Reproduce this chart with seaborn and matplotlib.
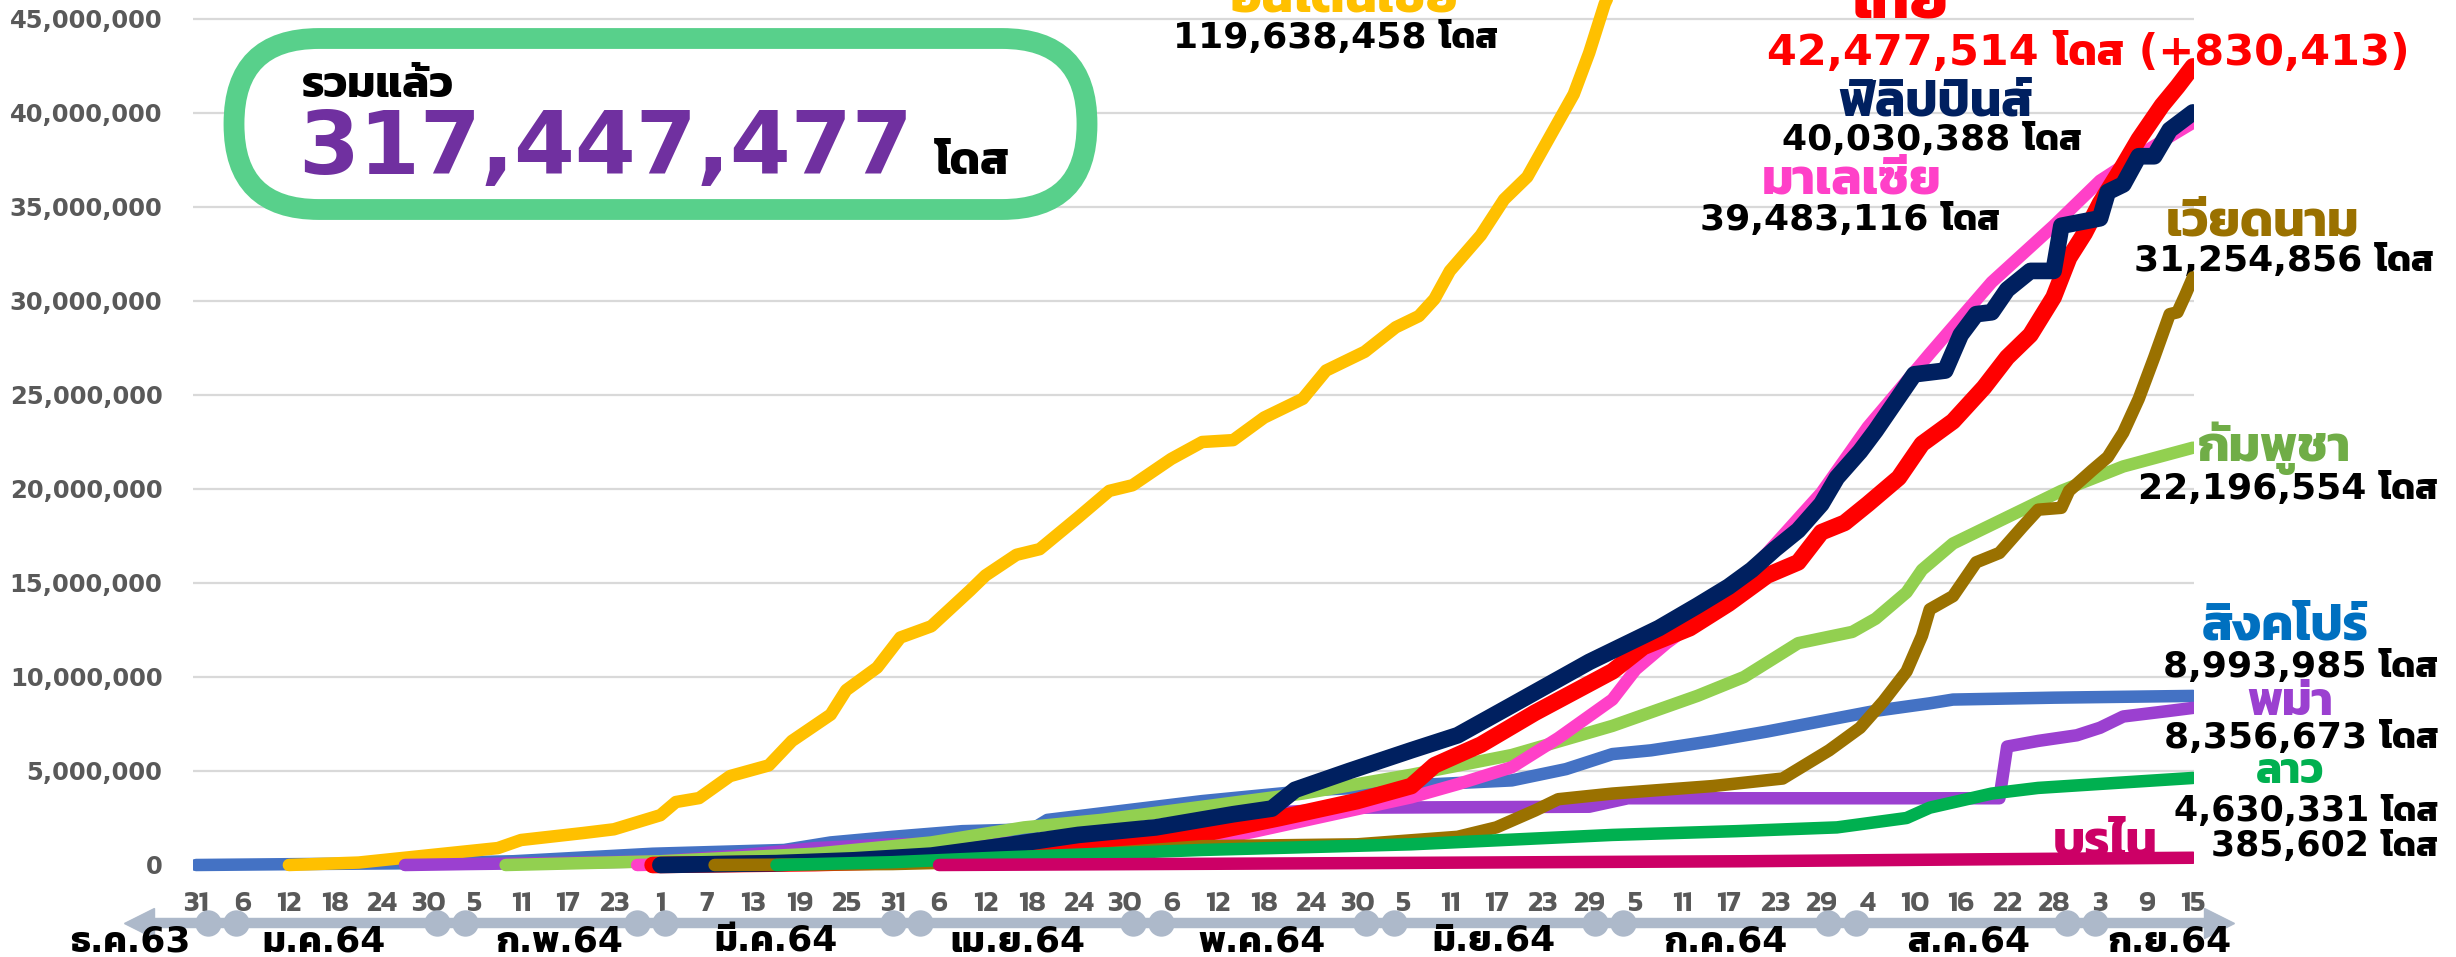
import pandas as pd
import matplotlib
matplotlib.use('Agg')
import matplotlib.pyplot as plt
from matplotlib.patches import FancyBboxPatch
from matplotlib.transforms import IdentityTransform
import seaborn as sns

# ── DATA (days after 31 Dec 2020, cumulative doses in millions) ──
START = pd.Timestamp('2020-12-31')

SG_DAY = [0, 14, 30, 41, 50, 59, 76, 82, 90, 99, 108, 110, 130, 145, 160, 170, 177, 183, 188, 196, 203, 210, 217, 224, 227, 240, 258]
SG_M = [0, 0.05, 0.1, 0.2, 0.4, 0.6, 0.8, 1.2, 1.5, 1.8, 1.9, 2.4, 3.4, 4.0, 4.3, 4.5, 5.1, 5.9, 6.1, 6.6, 7.1, 7.65, 8.2, 8.6, 8.8, 8.9, 8.993985]

ID_DAY = [12, 21, 28, 39, 42, 50, 54, 60, 62, 65, 69, 74, 77, 82, 84, 88, 91, 95, 100, 102, 106, 109, 114, 118, 121, 126, 130, 134, 138, 143, 146, 151, 155, 158, 160, 162, 166, 169, 172, 175, 178, 180, 182, 185, 196, 213, 227, 244, 258]
ID_M = [0, 0.13, 0.43, 0.9, 1.33, 1.7, 1.9, 2.65, 3.35, 3.56, 4.73, 5.3, 6.6, 8.0, 9.3, 10.5, 12.1, 12.7, 14.6, 15.4, 16.5, 16.8, 18.5, 19.9, 20.2, 21.6, 22.5, 22.6, 23.8, 24.8, 26.3, 27.3, 28.6, 29.2, 30.1, 31.6, 33.5, 35.4, 36.6, 38.8, 41.0, 43.2, 45.8, 48.5, 55.0, 70.0, 85.0, 104.0, 119.638458]

MM_DAY = [27, 35, 45, 60, 70, 80, 90, 120, 132, 140, 150, 180, 185, 233, 234, 238, 243, 246, 249, 255, 258]
MM_M = [0, 0.05, 0.1, 0.2, 0.5, 0.9, 1.1, 1.3, 1.4, 2.8, 3.05, 3.1, 3.55, 3.55, 6.3, 6.6, 6.9, 7.3, 7.9, 8.2, 8.356673]

KH_DAY = [40, 60, 80, 95, 107, 117, 130, 143, 157, 170, 183, 194, 200, 207, 214, 217, 221, 223, 227, 234, 241, 249, 258]
KH_M = [0, 0.2, 0.6, 1.2, 2.0, 2.4, 3.1, 3.8, 4.8, 5.85, 7.4, 9.0, 10.0, 11.8, 12.4, 13.1, 14.5, 15.7, 17.1, 18.5, 19.9, 21.2, 22.196554]

MY_DAY = [57, 80, 100, 115, 125, 131, 137, 147, 157, 163, 170, 176, 183, 186, 190, 196, 203, 210, 216, 224, 232, 240, 246, 252, 258]
MY_M = [0, 0.2, 0.5, 0.8, 1.05, 1.3, 1.8, 2.7, 3.6, 4.3, 5.2, 6.75, 8.8, 10.4, 11.8, 13.6, 16.6, 19.8, 23.3, 27.2, 31.0, 34.0, 36.4, 38.0, 39.483116]

TH_DAY = [59, 70, 80, 90, 100, 110, 120, 130, 140, 150, 157, 160, 166, 173, 183, 187, 193, 198, 203, 207, 210, 213, 216, 220, 223, 227, 231, 234, 237, 240, 242, 244, 246, 249, 251, 254, 256, 258]
TH_M = [0, 0.05, 0.1, 0.2, 0.45, 0.8, 1.1, 1.65, 2.5, 3.4, 4.2, 5.3, 6.4, 8.1, 10.3, 11.6, 12.6, 13.9, 15.4, 16.1, 17.7, 18.2, 19.2, 20.6, 22.4, 23.6, 25.4, 27.0, 28.2, 30.2, 32.3, 33.6, 35.2, 37.2, 38.6, 40.4, 41.4, 42.477514]

PH_DAY = [60, 75, 85, 95, 104, 114, 124, 134, 139, 142, 149, 157, 163, 170, 180, 189, 194, 198, 201, 204, 207, 210, 212, 215, 217, 220, 222, 226, 228, 230, 232, 234, 237, 240, 241, 246, 247, 249, 251, 253, 255, 258]
PH_M = [0, 0.1, 0.25, 0.5, 1.0, 1.6, 2.0, 2.7, 3.0, 4.0, 5.0, 6.1, 6.9, 8.5, 10.8, 12.6, 13.8, 14.8, 15.7, 16.8, 17.8, 19.2, 20.6, 22.0, 23.1, 24.9, 26.1, 26.3, 28.2, 29.3, 29.4, 30.6, 31.6, 31.6, 34.0, 34.4, 35.8, 36.2, 37.7, 37.7, 39.1, 40.030388]

VN_DAY = [67, 90, 105, 117, 130, 150, 163, 168, 173, 176, 183, 196, 205, 211, 215, 218, 221, 223, 224, 227, 230, 233, 236, 238, 241, 242, 245, 247, 249, 251, 253, 255, 256, 257, 258]
VN_M = [0, 0.05, 0.2, 0.6, 1.0, 1.1, 1.5, 2.0, 2.9, 3.5, 3.8, 4.2, 4.6, 6.1, 7.3, 8.7, 10.3, 12.2, 13.6, 14.3, 16.1, 16.6, 18.0, 18.9, 19.0, 19.9, 21.0, 21.7, 23.0, 24.8, 27.0, 29.3, 29.4, 30.3, 31.254856]

LA_DAY = [75, 90, 104, 130, 157, 183, 199, 212, 221, 224, 232, 238, 258]
LA_M = [0, 0.15, 0.4, 0.8, 1.1, 1.6, 1.8, 2.0, 2.5, 3.05, 3.8, 4.1, 4.630331]

BN_DAY = [96, 150, 200, 230, 258]
BN_M = [0, 0.1, 0.2, 0.3, 0.385602]

COUNTRIES = ['สิงคโปร์', 'อินโดนีเซีย', 'พม่า', 'กัมพูชา', 'มาเลเซีย',
             'ไทย', 'ฟิลิปปินส์', 'เวียดนาม', 'ลาว', 'บรไน']
SERIES = [(SG_DAY, SG_M), (ID_DAY, ID_M), (MM_DAY, MM_M), (KH_DAY, KH_M), (MY_DAY, MY_M),
          (TH_DAY, TH_M), (PH_DAY, PH_M), (VN_DAY, VN_M), (LA_DAY, LA_M), (BN_DAY, BN_M)]
TOTAL_TEXT = '317,447,477'
MONTHS = ['ธ.ค.63', 'ม.ค.64', 'ก.พ.64', 'มี.ค.64', 'เม.ย.64', 'พ.ค.64',
          'มิ.ย.64', 'ก.ค.64', 'ส.ค.64', 'ก.ย.64']

# ── STYLE ─────────────────────────────────────────────────
LINE_COLORS = ['#4472c4', '#ffc000', '#9b40d0', '#92d050', '#ff40c8',
               '#ff0000', '#002060', '#9a7100', '#00b050', '#cc0066']
NAME_COLORS = ['#0070c0', '#ffc000', '#9b40d0', '#70ad47', '#ff40c8',
               '#ff0000', '#002060', '#9a7100', '#00b050', '#cc0066']
ARROW_GRAY = '#adb9ca'

sns.set_theme(style='white')
NUM_FAM = ['DejaVu Sans', 'Kanit']     # latin digits first, Thai falls back to Kanit
THAI_FAM = ['Kanit', 'DejaVu Sans']
plt.rcParams['font.family'] = NUM_FAM

W, H = 2456, 957
X0, X1 = 193, 2194           # plot left / right (px)
Y_ZERO, Y_TOP = 865, 19      # pixel rows of 0 and 45M
PX_PER_M = (Y_ZERO - Y_TOP) / 45.0
DAY0_X, PX_PER_DAY = 196, 7.74
AX_BOTTOM = 880

def fx(x):
    return x / W

def fy(y):
    return 1 - y / H

rows = []
for name, (days, vals) in zip(COUNTRIES, SERIES):
    for d, v in zip(days, vals):
        rows.append({'country': name, 'day': d, 'doses': v * 1e6})
df = pd.DataFrame(rows)

fig = plt.figure(figsize=(W / 100, H / 100), dpi=100)
fig.patch.set_facecolor('white')
ax = fig.add_axes([fx(X0), fy(AX_BOTTOM), (X1 - X0) / W, AX_BOTTOM / H])

for name, col in zip(COUNTRIES, LINE_COLORS):
    lw = 12 if name in ('ไทย', 'ฟิลิปปินส์') else 9
    sns.lineplot(data=df[df['country'] == name], x='day', y='doses', color=col,
                 lw=lw, ax=ax, estimator=None, solid_capstyle='round',
                 solid_joinstyle='round', zorder=3)

ax.set_xlim((X0 - DAY0_X) / PX_PER_DAY, (X1 - DAY0_X) / PX_PER_DAY)
ax.set_ylim(-(AX_BOTTOM - Y_ZERO) / PX_PER_M * 1e6, (45 + Y_TOP / PX_PER_M) * 1e6)

yt = list(range(0, 45_000_001, 5_000_000))
ax.set_yticks(yt, [f'{v:,}' for v in yt])
tick_days = list(range(0, 259, 6))
ax.set_xticks(tick_days, [str((START + pd.Timedelta(days=d)).day) for d in tick_days])
ax.tick_params(axis='y', length=0, pad=22, labelsize=17.5, labelcolor='#595959')
ax.tick_params(axis='x', length=0, pad=8, labelsize=21, labelcolor='#595959')
for lab in ax.get_yticklabels():
    lab.set_fontweight('bold')
for lab in ax.get_xticklabels():
    lab.set_fontweight(600)
    lab.set_family(THAI_FAM)
ax.set_xlabel('')
ax.set_ylabel('')
ax.grid(False)
for y in yt[1:]:
    ax.axhline(y, color='#d9d9d9', lw=1.6, zorder=1)
for s in ax.spines.values():
    s.set_visible(False)
ax.set_facecolor('white')

# timeline arrow with month markers
tr = ax.get_xaxis_transform()
y_arrow = (AX_BOTTOM - 923) / AX_BOTTOM
y_month = (AX_BOTTOM - 951) / AX_BOTTOM
ax.plot([-6.5, 261.5], [y_arrow, y_arrow], color=ARROW_GRAY, lw=7.5, transform=tr,
        clip_on=False, solid_capstyle='butt')
ax.plot([-7.4], [y_arrow], marker='<', ms=22, color=ARROW_GRAY, transform=tr, clip_on=False)
ax.plot([261.4], [y_arrow], marker='>', ms=22, color=ARROW_GRAY, transform=tr, clip_on=False)
pair_centres = [3.4, 33, 58.8, 91.8, 122.9, 153, 182.6, 212.7, 243.5]
dots = [c + s for c in pair_centres for s in (-1.8, 1.8)]
ax.plot(dots, [y_arrow] * len(dots), 'o', ms=19, color=ARROW_GRAY, transform=tr,
        clip_on=False, markeredgewidth=0)
month_pos = [-8.5, 16.5, 47, 75, 106.2, 137.7, 167.7, 197.7, 229, 255]
for m, d in zip(MONTHS, month_pos):
    ax.text(d, y_month, m, transform=tr, ha='center', va='baseline', fontsize=26,
            fontweight='bold', color='black', clip_on=False)

# total box
box = FancyBboxPatch((234, H - 209.5), 853, 171, boxstyle='round,pad=0,rounding_size=85',
                     transform=IdentityTransform(), facecolor='white', edgecolor='#58d08b',
                     lw=15, zorder=5)
fig.add_artist(box)
fig.text(fx(302), fy(97), 'รวมแล้ว', fontsize=32, fontweight='bold', color='black',
         family=THAI_FAM, ha='left', va='baseline', zorder=6)
fig.text(fx(298), fy(174), TOTAL_TEXT, fontsize=63, fontweight='bold', color='#7030a0',
         ha='left', va='baseline', zorder=6)
fig.text(fx(935), fy(174), 'โดส', fontsize=33, fontweight='bold', color='black',
         family=THAI_FAM, ha='left', va='baseline', zorder=6)

# right-hand labels (drawn under the lines)
def label(x, y, s, color, size=26, fam=NUM_FAM, ha='center'):
    ax.text(fx(x), fy(y), s, transform=fig.transFigure, ha=ha, va='baseline',
            fontsize=size, fontweight='bold', color=color, family=fam,
            zorder=2, clip_on=False)

c = dict(zip(COUNTRIES, NAME_COLORS))
NAME_PT = 36
label(1345, 12, 'อินโดนีเซีย', c['อินโดนีเซีย'], 37, THAI_FAM)
label(1335, 48, '119,638,458 โดส', 'black')
label(1900, 17, 'ไทย', c['ไทย'], 44, THAI_FAM)
label(2088, 65, '42,477,514 โดส (+830,413)', c['ไทย'], 31)
label(1936, 115, 'ฟิลิปปินส์', c['ฟิลิปปินส์'], NAME_PT, THAI_FAM)
label(1932, 150, '40,030,388 โดส', 'black')
label(1852, 193, 'มาเลเซีย', c['มาเลเซีย'], NAME_PT, THAI_FAM)
label(1850, 230, '39,483,116 โดส', 'black')
label(2263, 235, 'เวียดนาม', c['เวียดนาม'], NAME_PT, THAI_FAM)
label(2433, 271, '31,254,856 โดส', 'black', ha='right')
label(2274, 461, 'กัมพูชา', c['กัมพูชา'], NAME_PT, THAI_FAM)
label(2438, 499, '22,196,554 โดส', 'black', ha='right')
label(2285, 640, 'สิงคโปร์', c['สิงคโปร์'], NAME_PT, THAI_FAM)
label(2438, 677, '8,993,985 โดส', 'black', ha='right')
label(2290, 715, 'พม่า', c['พม่า'], 34, THAI_FAM)
label(2438, 748, '8,356,673 โดส', 'black', ha='right')
label(2290, 783, 'ลาว', c['ลาว'], 31, THAI_FAM)
label(2438, 821, '4,630,331 โดส', 'black', 25, ha='right')
label(2105, 856, 'บรไน', c['บรไน'], NAME_PT, THAI_FAM)
label(2438, 856, '385,602 โดส', 'black', 25, ha='right')

fig.savefig('out.png', dpi=100, facecolor='white')
